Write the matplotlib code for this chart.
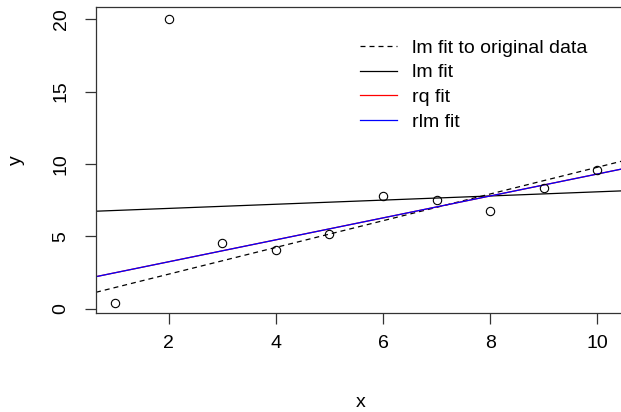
import matplotlib
matplotlib.use("Agg")
import matplotlib.pyplot as plt
import numpy as np

plt.rcParams['font.family'] = ['Liberation Sans', 'DejaVu Sans']

# data
x = [1, 2, 3, 4, 5, 6, 7, 8, 9, 10]
y = [0.43, 20.0, 4.57, 4.07, 5.17, 7.77, 7.49, 6.74, 8.37, 9.59]

# (intercept, slope) of each fitted line
fit_names = ['lm fit to original data', 'lm fit', 'rq fit', 'rlm fit']
fit_coefs = [(0.556, 0.922), (6.65, 0.143), (1.74, 0.757), (1.74, 0.757)]
fit_colors = ['black', 'black', 'red', 'blue']
fit_styles = [(0, (4, 3.2)), '-', '-', '-']

xticks = [2, 4, 6, 8, 10]
yticks = [0, 5, 10, 15, 20]

W, H = 621, 412
fig = plt.figure(figsize=(W / 100, H / 100), dpi=100)
ax = fig.add_axes([96 / W, (H - 313) / H, 530 / W, 306 / H])

x0 = 0.644
x1 = x0 + 530 / 53.6
ax.set_xlim(x0, x1)
ax.set_ylim(-0.28, 20.83)

xx = np.array([x0, x1])
for name, (a, b), c, ls in zip(fit_names, fit_coefs, fit_colors, fit_styles):
    ax.plot(xx, a + b * xx, color=c, linestyle=ls, lw=0.9, label=name)

ax.plot(x, y, 'o', mfc='none', mec='black', ms=6, mew=0.8)

for s in ax.spines.values():
    s.set_color('#333333')
    s.set_linewidth(0.9)

fs = 14
ax.set_xticks(xticks)
ax.set_yticks(yticks)
ax.tick_params(axis='both', length=8, width=0.9, color='#333333', labelsize=fs)
ax.tick_params(axis='x', pad=8)
ax.tick_params(axis='y', pad=11)
for lab in ax.get_yticklabels():
    lab.set_rotation(90)
    lab.set_va('center')

ax.set_xlabel('x', fontsize=fs, labelpad=30)
ax.set_ylabel('y', fontsize=fs, labelpad=20)

ax.legend(loc='upper left', bbox_to_anchor=(360 / W, 1 - 39 / H), bbox_transform=fig.transFigure,
          frameon=False, fontsize=fs, handlelength=1.9, handletextpad=0.76,
          labelspacing=0.37, borderpad=0, borderaxespad=0)

fig.savefig('out.png', dpi=100)
